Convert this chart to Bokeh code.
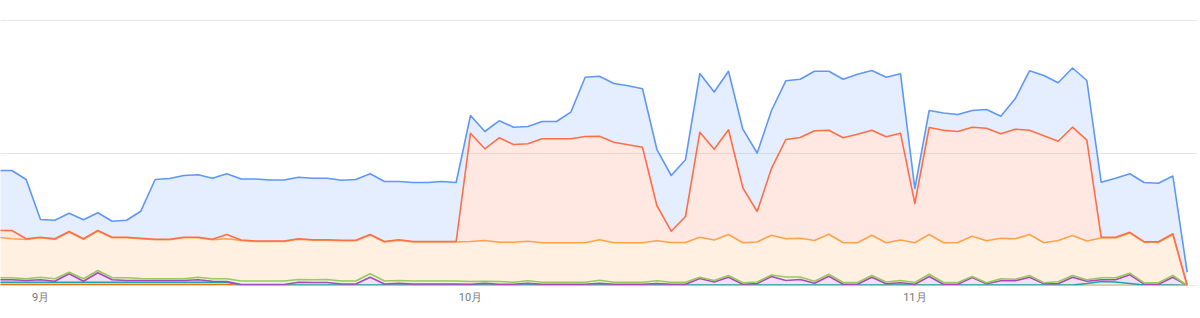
import pandas as pd
from bokeh.plotting import figure
from bokeh.models import ColumnDataSource, Range1d, FixedTicker, Span
from bokeh.embed import file_html
from bokeh.resources import INLINE

# ---- data (daily, stacked from bottom to top) ----
dates = pd.date_range("2024-08-29", "2024-11-20", freq="D")

s_darkorange = [1.0, 1.0, 1.0, 1.0, 1.0, 1.0, 1.0, 1.0, 1.0, 1.0,
                1.0, 1.0, 1.0, 1.0, 1.0, 1.0, 1.0, 0, 0, 0,
                0, 0, 0, 0, 0, 0, 0, 0, 0, 0,
                0, 0, 0, 0, 0, 0, 0, 0, 0, 0,
                0, 0, 0, 0, 0, 0, 0, 0, 0, 0,
                0, 0, 0, 0, 0, 0, 0, 0, 0, 0,
                0, 0, 0, 0, 0, 0, 0, 0, 0, 0,
                0, 0, 0, 0, 0, 0, 0, 0, 0, 0,
                0, 0, 0, 0]
s_teal = [2.3, 2.3, 2.3, 2.3, 2.3, 2.3, 2.3, 2.3, 2.3, 2.3,
          2.3, 2.3, 2.3, 2.3, 2.3, 2.3, 2.3, 0.5, 0.5, 0.5,
          0.5, 0.5, 0.5, 0.5, 0.5, 0.5, 0.5, 0.5, 0.5, 0.5,
          0.5, 0.5, 0.5, 0.5, 0.5, 0.5, 0.5, 0.5, 0.5, 0.5,
          0.5, 0.5, 0.5, 0.5, 0.5, 0.5, 0.5, 0.5, 0.5, 0.5,
          0.5, 0.5, 0.5, 0.5, 0.5, 0.5, 0.5, 0.5, 0.5, 0.5,
          0.5, 0.5, 0.5, 0.5, 0.5, 0.5, 0.5, 0.5, 0.5, 0.5,
          0.5, 0.5, 0.5, 0.5, 0.5, 0.5, 2.0, 4.0, 3.5, 2.0,
          0.5, 0.5, 0.5, 0]
s_purple = [2.4, 2.4, 1.7, 2.4, 1.0, 8.4, 1.0, 9.4, 2.4, 1.7,
            1.7, 1.7, 1.7, 1.7, 2.4, 1.0, 0.7, 0.5, 0.5, 0.5,
            0.5, 2.8, 2.5, 2.5, 1.0, 1.0, 7.8, 1.0, 1.8, 1.0,
            1.0, 1.0, 1.0, 0.8, 1.8, 0.8, 0.8, 1.8, 0.8, 0.8,
            0.8, 0.8, 1.8, 0.8, 0.8, 0.8, 1.5, 0.8, 0.8, 6.5,
            3.0, 7.8, 0.8, 1.5, 8.5, 4.5, 5.5, 1.8, 8.8, 0.8,
            0.8, 7.8, 1.2, 2.2, 0.8, 8.5, 0.8, 0.8, 7.5, 1.2,
            4.2, 4.2, 7.8, 1.2, 1.2, 7.8, 2.3, 1.7, 2.2, 8.7,
            0.8, 0.8, 7.8, 0]
s_green = [2.0, 2.0, 1.7, 2.6, 2.4, 1.6, 2.4, 2.3, 2.0, 2.7,
           2.0, 1.7, 1.7, 1.7, 2.6, 2.4, 2.7, 3.5, 3.5, 3.5,
           3.5, 2.7, 2.7, 3.0, 3.0, 3.0, 3.4, 3.0, 2.7, 3.0,
           3.0, 3.0, 3.0, 2.7, 2.0, 2.7, 2.0, 2.4, 2.0, 2.0,
           2.0, 2.0, 3.0, 2.0, 2.0, 2.0, 2.7, 2.0, 2.0, 1.3,
           1.5, 1.7, 1.4, 1.5, 1.5, 3.5, 2.5, 1.9, 1.9, 1.7,
           1.7, 1.7, 1.8, 2.3, 1.7, 2.2, 1.7, 1.7, 1.0, 1.0,
           2.0, 1.6, 1.7, 1.0, 2.0, 1.7, 1.4, 2.0, 2.0, 1.6,
           1.4, 1.4, 1.7, 0]
s_orange = [40.6, 39.0, 39.3, 39.5, 39.5, 40.2, 39.5, 39.5, 40.1, 40.1,
            39.8, 39.1, 39.1, 41.1, 39.5, 39.1, 40.0, 40.5, 39.5, 39.5,
            39.5, 40.2, 39.5, 39.2, 40.3, 40.3, 38.8, 39.0, 40.2, 39.0,
            39.0, 39.0, 39.0, 40.0, 40.7, 39.3, 40.0, 39.6, 39.4, 39.4,
            39.4, 39.4, 40.4, 39.4, 39.4, 39.4, 40.0, 39.7, 39.7, 40.0,
            40.5, 41.0, 40.0, 40.0, 39.8, 38.2, 38.8, 40.8, 40.0, 39.7,
            39.7, 40.3, 39.2, 40.5, 39.8, 39.8, 39.8, 40.0, 40.2, 42.0,
            40.5, 40.4, 41.0, 40.1, 41.3, 40.0, 38.8, 39.8, 39.8, 40.2,
            40.6, 40.6, 41.0, 0]
s_red = [6.7, 8.3, 0.7, 0.5, 0.5, 0.5, 0.5, 0.5, 0.5, 0.5,
         0.5, 0.5, 0.5, 0.5, 0.5, 0.5, 4.3, 0.5, 0.5, 0.5,
         0.5, 0.5, 0.5, 0.5, 0.5, 0.5, 0.5, 0.5, 0.5, 0.5,
         0.5, 0.5, 0.5, 108.3, 91.7, 104.4, 97.7, 97.4, 104.0, 104.0,
         104.0, 106.3, 103.6, 100.6, 98.0, 95.6, 35.3, 11.3, 26.0, 105.0,
         90.7, 104.7, 55.0, 30.5, 66.9, 99.3, 100.7, 109.7, 104.1, 105.0,
         108.6, 105.0, 106.0, 106.8, 39.2, 107.0, 112.5, 111.0, 109.1, 112.6,
         104.5, 109.6, 104.3, 106.9, 99.3, 108.3, 100.8, 0.8, 0.8, 0.7,
         0.5, 0.5, 0.7, 0]
s_blue = [60.0, 60.0, 59.3, 17.7, 18.6, 18.3, 19.0, 17.7, 16.0, 17.0,
          27.0, 59.7, 60.7, 61.7, 62.4, 61.0, 60.7, 61.0, 62.0, 61.0,
          61.0, 61.6, 61.6, 61.6, 60.0, 60.7, 60.7, 60.0, 58.3, 59.0,
          59.0, 60.0, 59.0, 17.7, 17.3, 17.0, 17.3, 17.3, 17.3, 17.3,
          26.6, 59.3, 60.0, 58.7, 59.1, 58.4, 56.2, 55.7, 56.8, 58.7,
          57.3, 58.5, 58.6, 58.5, 57.8, 58.7, 58.3, 59.6, 58.9, 58.6,
          60.0, 59.7, 59.6, 59.4, 15.0, 17.0, 17.2, 17.0, 16.7, 18.7,
          17.6, 30.4, 59.4, 60.3, 58.4, 59.2, 59.7, 55.0, 59.0, 58.5,
          59.2, 58.5, 57.8, 13.3]

series_names = ["darkorange", "teal", "purple", "green", "orange", "red", "blue"]
series_colors = ["#e8710a", "#1aa6a6", "#ab47bc", "#97c95c", "#ffa24a", "#ff6e47", "#5e97f6"]
y_gridlines = [0, 132.5, 265]

# ---- build ----
x = list(range(len(dates)))
month_ticks = [i for i, d in enumerate(dates) if d.day == 1]
month_labels = {i: f"{dates[i].month}月" for i in month_ticks}

src = ColumnDataSource(dict(
    x=x,
    darkorange=s_darkorange, teal=s_teal, purple=s_purple, green=s_green,
    orange=s_orange, red=s_red, blue=s_blue,
))

p = figure(width=1200, height=318, output_backend="svg", toolbar_location=None,
           x_range=Range1d(0.21, 83.72), y_range=Range1d(0, 268),
           min_border_left=0, min_border_right=3, min_border_top=17, min_border_bottom=33)
p.outline_line_color = None
p.background_fill_color = "white"
p.border_fill_color = "white"

p.varea_stack(stackers=series_names, x="x", fill_color=series_colors,
              fill_alpha=0.16, source=src)
p.vline_stack(stackers=series_names, x="x", line_color=series_colors,
              line_width=1.6, line_join="round", source=src)

p.yaxis.visible = False
p.yaxis.ticker = FixedTicker(ticks=y_gridlines)
p.ygrid.ticker = FixedTicker(ticks=y_gridlines)
p.ygrid.grid_line_color = "#e6e6e6"
p.ygrid.grid_line_width = 1
p.xgrid.grid_line_color = None
p.add_layout(Span(location=0, dimension="width", line_color="#d6d6d6", line_width=1), "below")

xa = p.xaxis[0]
xa.ticker = FixedTicker(ticks=month_ticks)
xa.major_label_overrides = month_labels
xa.axis_line_color = None
xa.major_tick_line_color = None
xa.minor_tick_line_color = None
xa.major_tick_out = 0
xa.major_label_standoff = 5
xa.major_label_text_font = "Roboto"
xa.major_label_text_font_size = "11px"
xa.major_label_text_color = "#777777"

open("out.html", "w").write(file_html(p, INLINE))
